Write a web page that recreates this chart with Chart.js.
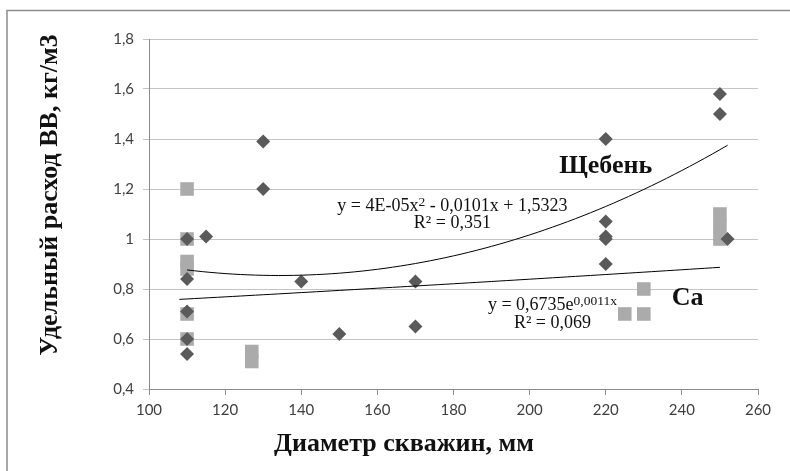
<!DOCTYPE html>
<html>
<head>
<meta charset="utf-8">
<script src="https://cdn.jsdelivr.net/npm/chart.js@4/dist/chart.umd.min.js"></script>
<style>
  html, body { margin: 0; padding: 0; background: #fff; }
  #wrap { width: 790px; height: 471px; }
</style>
</head>
<body>
<div id="wrap"><canvas id="chart" width="790" height="471"></canvas></div>
<script>
// Щебень (crushed stone) measurements: hole diameter, mm -> specific charge, kg/m3
const shchebenX = [110, 110, 110, 110, 110, 115, 130, 130, 140, 150, 170, 170, 220, 220, 220, 220, 220, 250, 250, 252];
const shchebenY = [1.0, 0.84, 0.71, 0.6, 0.54, 1.01, 1.39, 1.2, 0.83, 0.62, 0.83, 0.65, 1.4, 1.07, 1.01, 1.0, 0.9, 1.58, 1.5, 1.0];

// Ca measurements
const caX = [110, 110, 110, 110, 110, 110, 127, 127, 225, 230, 230, 250, 250, 250];
const caY = [1.2, 1.0, 0.91, 0.88, 0.7, 0.6, 0.55, 0.51, 0.7, 0.8, 0.7, 1.1, 1.05, 1.0];

// axis ticks
const xTicks = [100, 120, 140, 160, 180, 200, 220, 240, 260];
const yTicks = [0.4, 0.6, 0.8, 1.0, 1.2, 1.4, 1.6, 1.8];
const yTickLabels = ['0,4', '0,6', '0,8', '1', '1,2', '1,4', '1,6', '1,8'];

// trend fits: polynomial c + b*x + a*x^2 (a is shown rounded as 4E-05) and exponential k*e^(m*x)
const shchebenFit = [1.5323, -0.0101, 0.0000376];
const shchebenFitRange = [110, 252];
const caFit = [0.6735, 0.0011];
const caFitRange = [108, 250];

function sampleCurve(fn, range) {
  const pts = [];
  for (let x = range[0]; x <= range[1]; x += 2) pts.push({ x: x, y: fn(x) });
  return pts;
}

const toPoints = (xs, ys) => xs.map((x, i) => ({ x: x, y: ys[i] }));

const shchebenTrend = sampleCurve(x => shchebenFit[0] + shchebenFit[1] * x + shchebenFit[2] * x * x, shchebenFitRange);
const caTrend = sampleCurve(x => caFit[0] * Math.exp(caFit[1] * x), caFitRange);

// labels placed in data coordinates; parts with sup:true are superscripts
const eqFont = '18px "Liberation Serif"';
const notes = [
  { x: 179.7, y: 1.113, font: eqFont, parts: [{ t: 'y = 4E-05x' }, { t: '2', sup: true }, { t: ' - 0,0101x + 1,5323' }] },
  { x: 179.7, y: 1.045, font: eqFont, parts: [{ t: 'R² = 0,351' }] },
  { x: 206, y: 0.717, font: eqFont, parts: [{ t: 'y = 0,6735e' }, { t: '0,0011x', sup: true }] },
  { x: 206, y: 0.645, font: eqFont, parts: [{ t: 'R² = 0,069' }] },
  { x: 220, y: 1.265, font: 'bold 26px "Liberation Serif"', parts: [{ t: 'Щебень' }] },
  { x: 241.5, y: 0.737, font: 'bold 26px "Liberation Serif"', parts: [{ t: 'Ca' }] }
];

function drawParts(ctx, note, cx, baseline) {
  const supFont = '13.5px "Liberation Serif"';
  let width = 0;
  note.parts.forEach(p => {
    ctx.font = p.sup ? supFont : note.font;
    p.w = ctx.measureText(p.t).width;
    width += p.w;
  });
  let x = cx - width / 2;
  note.parts.forEach(p => {
    ctx.font = p.sup ? supFont : note.font;
    ctx.fillText(p.t, x, p.sup ? baseline - 5 : baseline);
    x += p.w;
  });
}

const annotationPlugin = {
  id: 'annotations',
  beforeDraw(chart) {
    const ctx = chart.ctx;
    ctx.save();
    ctx.strokeStyle = '#8c8c8c';
    ctx.lineWidth = 1.5;
    ctx.beginPath();
    ctx.moveTo(7, 471);
    ctx.lineTo(7, 10.5);
    ctx.lineTo(790, 10.5);
    ctx.stroke();
    ctx.restore();
  },
  afterDatasetsDraw(chart) {
    const ctx = chart.ctx;
    const xs = chart.scales.x, ys = chart.scales.y;
    ctx.save();
    ctx.fillStyle = '#111';
    ctx.textAlign = 'left';
    ctx.textBaseline = 'alphabetic';
    notes.forEach(n => drawParts(ctx, n, xs.getPixelForValue(n.x), ys.getPixelForValue(n.y)));

    // axis titles
    const area = chart.chartArea;
    ctx.font = 'bold 26px "Liberation Serif"';
    ctx.textAlign = 'center';
    ctx.textBaseline = 'middle';
    ctx.fillText('Диаметр скважин, мм', area.left + 255, 444);
    ctx.translate(50, area.top + 156);
    ctx.rotate(-Math.PI / 2);
    ctx.fillText('Удельный расход ВВ, кг/м3', 0, 0);
    ctx.restore();
  }
};

const tickFont = { family: 'Lato', size: 15 };

new Chart(document.getElementById('chart'), {
  type: 'scatter',
  data: {
    datasets: [
      {
        type: 'line', data: shchebenTrend, borderColor: '#000', borderWidth: 1,
        pointRadius: 0, fill: false, tension: 0, order: 0
      },
      {
        type: 'line', data: caTrend, borderColor: '#000', borderWidth: 1,
        pointRadius: 0, fill: false, tension: 0, order: 0
      },
      {
        label: 'Щебень', data: toPoints(shchebenX, shchebenY), pointStyle: 'rectRot',
        pointRadius: 7, pointHoverRadius: 7, backgroundColor: '#5a5a5a', borderWidth: 0, order: 1
      },
      {
        label: 'Ca', data: toPoints(caX, caY), pointStyle: 'rect',
        pointRadius: 9.6, pointHoverRadius: 9.6, backgroundColor: '#ababab', borderWidth: 0, order: 2
      }
    ]
  },
  options: {
    responsive: false,
    animation: false,
    devicePixelRatio: 1,
    events: [],
    layout: { padding: { top: 39, right: 32, left: 0, bottom: 0 } },
    plugins: { legend: { display: false }, tooltip: { enabled: false } },
    scales: {
      x: {
        type: 'linear', min: xTicks[0], max: xTicks[xTicks.length - 1],
        afterFit: s => { s.height = 82; },
        afterBuildTicks: s => { s.ticks = xTicks.map(v => ({ value: v })); },
        ticks: { font: tickFont, color: '#404040', padding: 6, maxRotation: 0, callback: v => String(v) },
        grid: { drawOnChartArea: false, drawTicks: true, tickLength: 6, color: '#8c8c8c' },
        border: { color: '#8c8c8c' }
      },
      y: {
        type: 'linear', min: yTicks[0], max: yTicks[yTicks.length - 1],
        afterFit: s => { s.width = 149; },
        afterBuildTicks: s => { s.ticks = yTicks.map(v => ({ value: v })); },
        ticks: {
          font: tickFont, color: '#404040', padding: 9,
          callback: (v, i) => yTickLabels[i]
        },
        grid: { color: '#c4c4c4', tickLength: 6 },
        border: { color: '#8c8c8c' }
      }
    }
  },
  plugins: [annotationPlugin]
});
</script>
</body>
</html>
